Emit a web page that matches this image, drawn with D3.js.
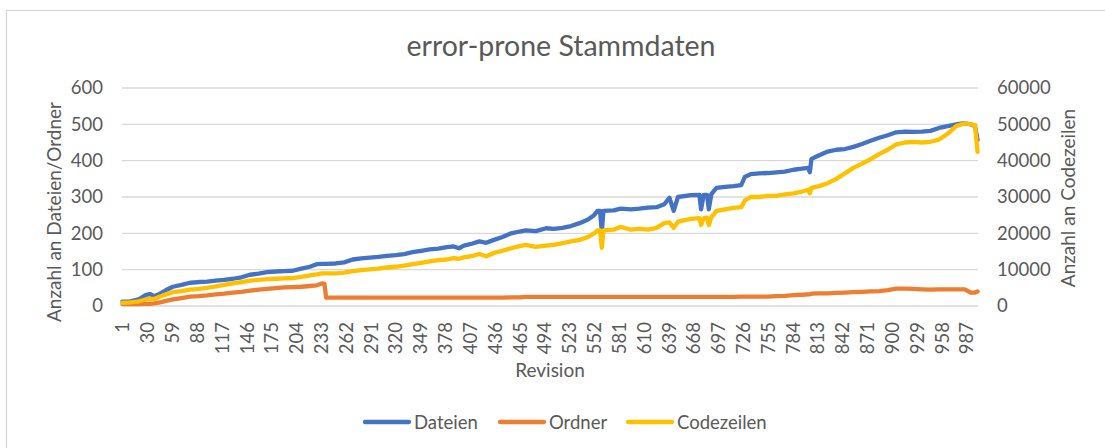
<!DOCTYPE html>
<html>
<head>
<meta charset="utf-8">
<script src="https://d3js.org/d3.v7.min.js"></script>
<style>
    body { margin: 0; background: #fff; }
    text { font-family: Lato, "Open Sans", sans-serif; fill: #595959; }
</style>
</head>
<body>
<div id="graph"></div>

<script>

    var revisions = [1, 10, 20, 28, 33, 38, 45, 52, 60, 70,
        80, 90, 100, 110, 120, 130, 140, 150, 160, 170,
        180, 190, 200, 210, 220, 228, 234, 237, 239, 250,
        260, 270, 280, 290, 300, 310, 320, 330, 340, 350,
        360, 370, 380, 388, 394, 400, 410, 418, 426, 435,
        445, 455, 465, 472, 484, 496, 505, 515, 525, 535,
        545, 552, 556, 559, 561, 563, 575, 583, 595, 605,
        615, 625, 634, 640, 645, 650, 665, 675, 677, 680,
        684, 686, 689, 695, 705, 715, 724, 728, 735, 745,
        755, 765, 775, 785, 795, 802, 804, 806, 815, 825,
        835, 845, 855, 865, 875, 885, 895, 905, 915, 925,
        935, 945, 955, 965, 975, 985, 992, 997, 1000];

    var dateien = [12, 13, 18, 30, 33, 27, 34, 44, 53, 58,
        64, 66, 67, 70, 72, 75, 79, 86, 89, 93,
        95, 96, 97, 103, 108, 115, 116, 116, 116, 117,
        120, 128, 131, 133, 135, 138, 140, 143, 148, 152,
        156, 158, 162, 164, 159, 166, 172, 178, 174, 182,
        190, 200, 205, 208, 206, 214, 212, 215, 220, 228,
        238, 250, 262, 262, 205, 262, 263, 268, 266, 268,
        271, 272, 280, 298, 262, 300, 305, 306, 266, 306,
        306, 266, 308, 325, 328, 330, 333, 355, 363, 365,
        366, 368, 370, 375, 378, 380, 368, 405, 415, 425,
        430, 432, 438, 446, 455, 463, 470, 478, 480, 479,
        480, 482, 490, 495, 500, 503, 500, 495, 457];

    var ordner = [5, 5, 5, 6, 6, 7, 10, 14, 18, 22,
        26, 27, 29, 32, 34, 37, 39, 42, 45, 47,
        49, 51, 52, 53, 55, 57, 62, 61, 23, 23,
        23, 23, 23, 23, 23, 23, 23, 23, 23, 23,
        23, 23, 23, 23, 23, 23, 23, 23, 23, 23,
        23, 24, 24, 25, 25, 25, 25, 25, 25, 25,
        25, 25, 25, 25, 25, 25, 25, 25, 25, 25,
        25, 25, 25, 25, 25, 25, 25, 25, 25, 25,
        25, 25, 25, 25, 25, 25, 26, 26, 26, 26,
        26, 27, 28, 30, 31, 32, 32, 34, 35, 35,
        36, 37, 38, 39, 40, 41, 44, 48, 48, 47,
        46, 45, 46, 46, 46, 46, 37, 37, 40];

    var codezeilen = [900, 1000, 1300, 1800, 2000, 1900, 2600, 3200, 3800, 4100,
        4500, 4700, 5000, 5400, 5800, 6200, 6600, 7000, 7200, 7400,
        7500, 7600, 7700, 8000, 8400, 8700, 9000, 9000, 9000, 9000,
        9200, 9600, 9900, 10100, 10300, 10600, 10800, 11100, 11500, 11900,
        12300, 12600, 12800, 13200, 13000, 13400, 13800, 14300, 13700, 14600,
        15200, 15900, 16500, 16800, 16300, 16600, 16800, 17300, 17800, 18200,
        19000, 20000, 20800, 20800, 16000, 20800, 21000, 21800, 21000, 21200,
        21000, 21500, 22800, 23000, 21500, 23200, 24000, 24200, 22300, 24200,
        24300, 22300, 24400, 26200, 26600, 27000, 27200, 29000, 30000, 30000,
        30300, 30300, 30700, 31000, 31500, 32000, 31000, 32500, 33000, 33800,
        35000, 36500, 38000, 39200, 40400, 41800, 43000, 44500, 45000, 45200,
        45000, 45200, 45800, 47400, 49500, 50300, 50000, 49800, 42400];

    var revisionTicks = [1, 30, 59, 88, 117, 146, 175, 204, 233, 262, 291, 320,
        349, 378, 407, 436, 465, 494, 523, 552, 581, 610, 639, 668, 697, 726,
        755, 784, 813, 842, 871, 900, 929, 958, 987];
    var leftTicks = [0, 100, 200, 300, 400, 500, 600];
    var rightTicks = [0, 10000, 20000, 30000, 40000, 50000, 60000];

    var seriesNames = ["Dateien", "Ordner", "Codezeilen"];
    var seriesColors = ["#4472C4", "#ED7D31", "#FFC000"];

    var margin = { top: 88, right: 127, bottom: 142, left: 122 },
        width = 1105 - margin.left - margin.right,
        height = 448 - margin.top - margin.bottom;

    var root = d3.select("#graph")
        .append("svg")
        .attr("width", 1105)
        .attr("height", 448);

    // chart frame
    root.append("rect")
        .attr("x", 6.5)
        .attr("y", 10.5)
        .attr("width", 1120)
        .attr("height", 460)
        .style("fill", "none")
        .style("stroke", "#d9d9d9")
        .style("stroke-width", 1.3);

    root.append("text")
        .attr("x", 561)
        .attr("y", 56)
        .attr("text-anchor", "middle")
        .style("font-size", "28.5px")
        .text("error-prone Stammdaten");

    var svg = root.append("g")
        .attr("transform", "translate(" + margin.left + "," + margin.top + ")");

    var x = d3.scaleLinear()
        .domain([0.5, 1000.5])
        .range([0, width]);

    var y = d3.scaleLinear()
        .domain([0, 600])
        .range([height, 0]);

    var y2 = d3.scaleLinear()
        .domain([0, 60000])
        .range([height, 0]);

    // gridlines
    svg.append("g")
        .selectAll("line")
        .data(leftTicks)
        .enter()
        .append("line")
        .attr("x1", 0)
        .attr("x2", width)
        .attr("y1", function (d) { return y(d); })
        .attr("y2", function (d) { return y(d); })
        .style("stroke", "#d9d9d9")
        .style("stroke-width", 1.3);

    var leftAxis = svg.append("g")
        .call(d3.axisLeft(y).tickValues(leftTicks).tickSize(0).tickPadding(19));
    leftAxis.select(".domain").remove();
    leftAxis.selectAll("text")
        .style("font-size", "18.5px")
        .style("fill", "#595959");

    var rightAxis = svg.append("g")
        .attr("transform", "translate(" + width + ",0)")
        .call(d3.axisRight(y2).tickValues(rightTicks).tickSize(0).tickPadding(19).tickFormat(d3.format("d")));
    rightAxis.select(".domain").remove();
    rightAxis.selectAll("text")
        .style("font-size", "18.5px")
        .style("fill", "#595959");

    var bottomAxis = svg.append("g")
        .attr("transform", "translate(0," + height + ")")
        .call(d3.axisBottom(x).tickValues(revisionTicks).tickSize(0).tickFormat(d3.format("d")));
    bottomAxis.select(".domain").remove();
    bottomAxis.selectAll("text")
        .attr("transform", "rotate(-90)")
        .attr("text-anchor", "end")
        .attr("x", -16)
        .attr("y", 0)
        .attr("dy", "0.35em")
        .style("font-size", "18.5px")
        .style("fill", "#595959");

    // axis titles
    svg.append("text")
        .attr("transform", "translate(" + (61 - margin.left) + "," + (212 - margin.top) + ") rotate(-90)")
        .attr("text-anchor", "middle")
        .style("font-size", "19px")
        .text("Anzahl an Dateien/Ordner");

    svg.append("text")
        .attr("transform", "translate(" + (1075 - margin.left) + "," + (198 - margin.top) + ") rotate(-90)")
        .attr("text-anchor", "middle")
        .style("font-size", "19px")
        .text("Anzahl an Codezeilen");

    svg.append("text")
        .attr("x", 550 - margin.left)
        .attr("y", 377 - margin.top)
        .attr("text-anchor", "middle")
        .style("font-size", "19px")
        .text("Revision");

    // lines
    var lineLeft = d3.line()
        .x(function (d, i) { return x(revisions[i]); })
        .y(function (d) { return y(d); });

    var lineRight = d3.line()
        .x(function (d, i) { return x(revisions[i]); })
        .y(function (d) { return y2(d); });

    var seriesData = [dateien, ordner, codezeilen];
    seriesData.forEach(function (values, k) {
        svg.append("path")
            .datum(values)
            .attr("d", k == 2 ? lineRight : lineLeft)
            .style("fill", "none")
            .style("stroke", seriesColors[k])
            .style("stroke-width", 4.3)
            .style("stroke-linejoin", "round")
            .style("stroke-linecap", "round");
    });

    // legend
    var legendX = [365, 500, 628];
    var legend = root.append("g")
        .selectAll("g")
        .data(seriesNames)
        .enter()
        .append("g")
        .attr("transform", function (d, i) { return "translate(" + legendX[i] + ",422)"; });

    legend.append("line")
        .attr("x1", 0)
        .attr("x2", 44)
        .style("stroke", function (d, i) { return seriesColors[i]; })
        .style("stroke-width", 4.3)
        .style("stroke-linecap", "round");

    legend.append("text")
        .attr("x", 49)
        .attr("y", 6.5)
        .style("font-size", "18.5px")
        .text(function (d) { return d; });

</script>
</body>
</html>
